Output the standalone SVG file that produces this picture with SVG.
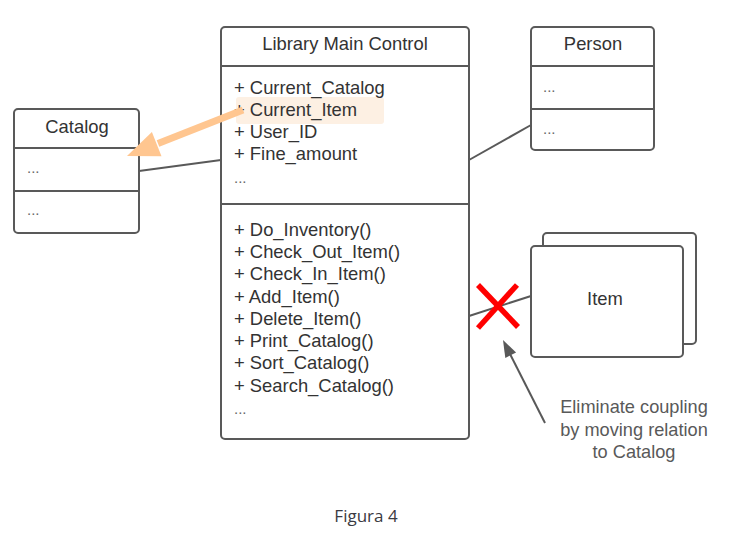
<svg xmlns="http://www.w3.org/2000/svg" width="738" height="537" viewBox="0 0 738 537">
<style>
.box{fill:#fff;stroke:#595959;stroke-width:2}
.sep{stroke:#595959;stroke-width:2;fill:none}
.t{font-family:"Liberation Sans",Arial,sans-serif;font-size:18.4px;fill:#333}
.c{text-anchor:middle}
.dots{font-family:"Liberation Sans",Arial,sans-serif;font-size:15px;fill:#666}
.conn{stroke:#595959;stroke-width:2;fill:none}
.note{font-family:"Liberation Sans",Arial,sans-serif;font-size:18.2px;fill:#595959;text-anchor:middle}
</style>
<rect width="738" height="537" fill="#fff"/>
<g id="connectors">
<line class="conn" x1="139" y1="171" x2="221" y2="160"/>
<line class="conn" x1="469" y1="160" x2="531" y2="125"/>
<line class="conn" x1="469" y1="316" x2="531" y2="296"/>
</g>
<g id="main">
<rect class="box" x="221" y="27" width="248" height="412" rx="4"/>
<line class="sep" x1="221" y1="66" x2="469" y2="66"/>
<line class="sep" x1="221" y1="204" x2="469" y2="204"/>
<text class="t c" x="345" y="50">Library Main Control</text>
<rect x="236" y="97" width="148" height="27" rx="3" fill="#fdf0e3"/>
<text class="t" x="234" y="94">+ Current_Catalog</text>
<text class="t" x="234" y="116" fill="#444">+ Current_Item</text>
<text class="t" x="234" y="138">+ User_ID</text>
<text class="t" x="234" y="160">+ Fine_amount</text>
<text class="dots" x="234" y="183">...</text>
<text class="t" x="234" y="236">+ Do_Inventory()</text>
<text class="t" x="234" y="258">+ Check_Out_Item()</text>
<text class="t" x="234" y="280">+ Check_In_Item()</text>
<text class="t" x="234" y="303">+ Add_Item()</text>
<text class="t" x="234" y="325">+ Delete_Item()</text>
<text class="t" x="234" y="347">+ Print_Catalog()</text>
<text class="t" x="234" y="369">+ Sort_Catalog()</text>
<text class="t" x="234" y="392">+ Search_Catalog()</text>
<text class="dots" x="234" y="414">...</text>
</g>
<g id="catalog">
<rect class="box" x="14" y="109" width="125" height="124" rx="4"/>
<line class="sep" x1="14" y1="148" x2="139" y2="148"/>
<line class="sep" x1="14" y1="191" x2="139" y2="191"/>
<text class="t c" x="77" y="133">Catalog</text>
<text class="dots" x="27" y="173">...</text>
<text class="dots" x="27" y="215">...</text>
</g>
<g id="person">
<rect class="box" x="531" y="27" width="123" height="123" rx="4"/>
<line class="sep" x1="531" y1="66" x2="654" y2="66"/>
<line class="sep" x1="531" y1="109" x2="654" y2="109"/>
<text class="t c" x="593" y="50">Person</text>
<text class="dots" x="543" y="92">...</text>
<text class="dots" x="543" y="134">...</text>
</g>
<g id="item">
<rect class="box" x="543" y="233" width="153" height="111" rx="4"/>
<rect class="box" x="531" y="246" width="152" height="111" rx="4"/>
<text class="t c" x="605" y="305">Item</text>
</g>
<g id="cross">
<line x1="478" y1="285" x2="518" y2="327" stroke="#ff0000" stroke-width="5.5"/>
<line x1="517" y1="285" x2="478" y2="328" stroke="#ff0000" stroke-width="5.5"/>
</g>
<g id="orange-arrow">
<line x1="243" y1="110" x2="158" y2="143.5" stroke="#ffc690" stroke-width="7"/>
<polygon points="127,156 151.9,132 161.5,156.2" fill="#ffc690"/>
</g>
<g id="gray-arrow">
<line x1="545" y1="423" x2="509" y2="352" stroke="#595959" stroke-width="2"/>
<polygon points="503,340 516.1,352.5 505.3,357.9" fill="#595959"/>
</g>
<g id="note">
<text class="note" x="634" y="413">Eliminate coupling</text>
<text class="note" x="634" y="435.5">by moving relation</text>
<text class="note" x="634" y="458">to Catalog</text>
</g>
<text x="366" y="522" font-family="'Open Sans','Noto Sans',sans-serif" font-size="17" fill="#3a3a42" text-anchor="middle">Figura 4</text>
</svg>
